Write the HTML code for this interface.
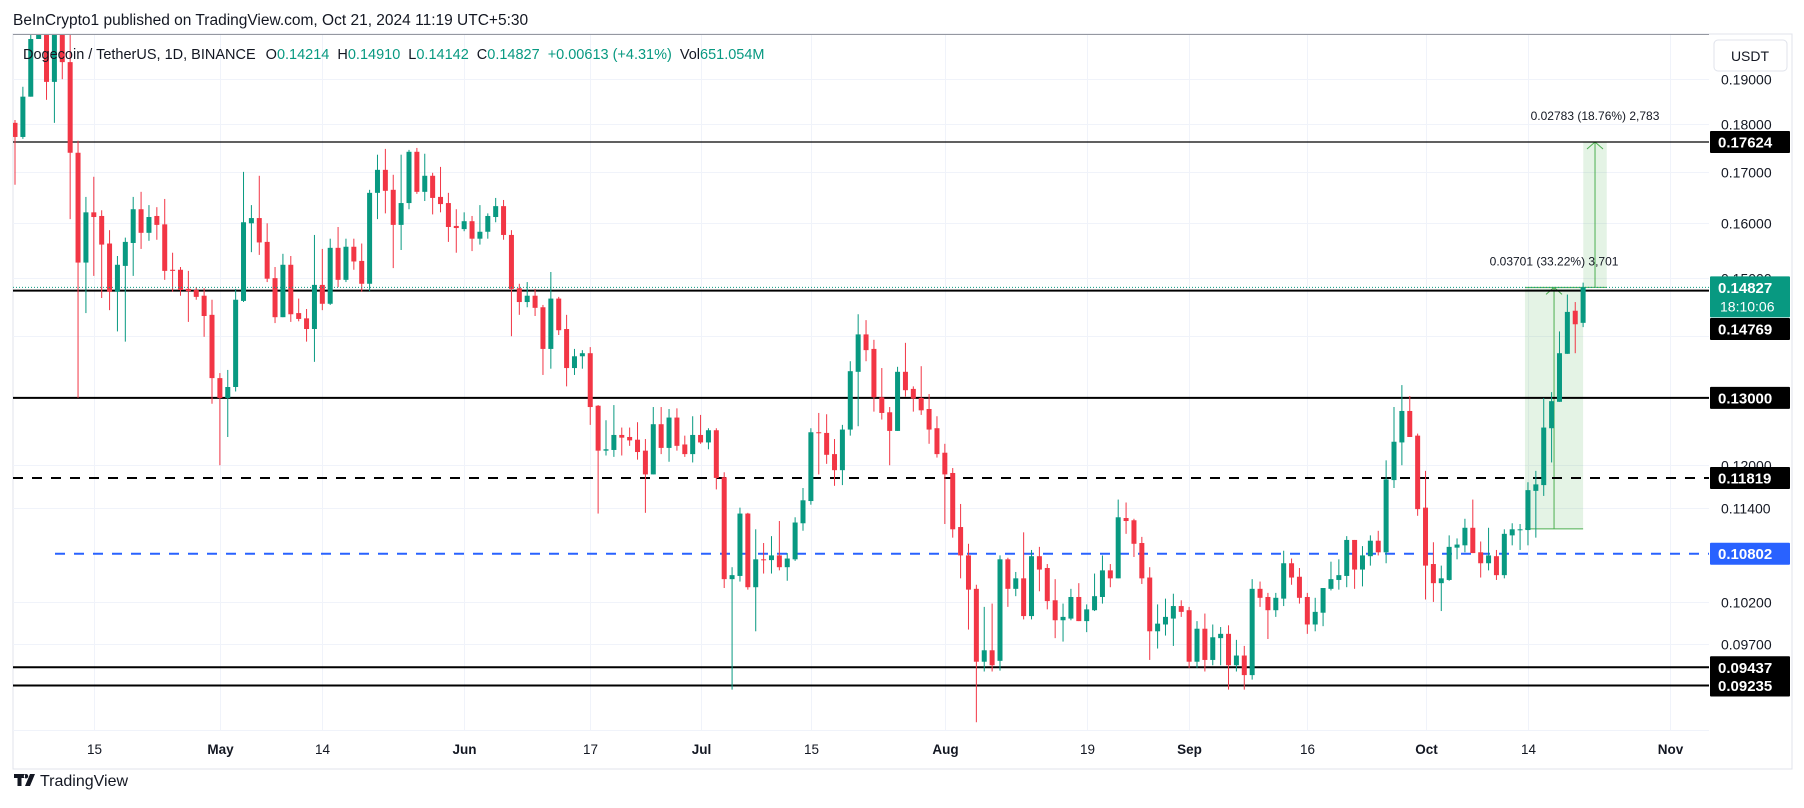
<!DOCTYPE html>
<html><head><meta charset="utf-8">
<style>
html,body{margin:0;padding:0;background:#fff;}
body{width:1804px;height:803px;overflow:hidden;font-family:"Liberation Sans",sans-serif;}
svg text{font-family:"Liberation Sans",sans-serif;}
</style></head>
<body>
<svg id="chart" width="1804" height="803" viewBox="0 0 1804 803" xmlns="http://www.w3.org/2000/svg">
  <text x="13" y="25" font-size="15.5" fill="#131722">BeInCrypto1 published on TradingView.com, Oct 21, 2024 11:19 UTC+5:30</text>
  <rect x="13" y="34" width="1779" height="735" fill="none" stroke="#e0e3eb" stroke-width="1"/>
  <line x1="13" y1="34.5" x2="1709" y2="34.5" stroke="#9598a1" stroke-width="1"/>
  <g id="grid"></g>
  <g id="plot" clip-path="url(#clipPlot)"></g>
  <defs><clipPath id="clipPlot"><rect x="13" y="35" width="1696" height="695"/></clipPath></defs>
  <g id="overlay"></g>
  <line x1="13" y1="730.5" x2="1709" y2="730.5" stroke="#f0f3fa"/>
  <g id="xaxis"></g>
  <g id="yaxis"></g>
  <rect x="1714" y="40" width="73" height="31" rx="4" fill="#fff" stroke="#e0e3eb"/>
  <text x="1750" y="61" font-size="14" fill="#131722" text-anchor="middle">USDT</text>
  <g id="legend">
    <text x="23" y="59" font-size="14.5" fill="#131722">Dogecoin / TetherUS, 1D, BINANCE <tspan dx="6">O</tspan><tspan fill="#089981">0.14214</tspan><tspan dx="8">H</tspan><tspan fill="#089981">0.14910</tspan><tspan dx="8">L</tspan><tspan fill="#089981">0.14142</tspan><tspan dx="8">C</tspan><tspan fill="#089981">0.14827</tspan><tspan dx="8" fill="#089981">+0.00613 (+4.31%)</tspan><tspan dx="8">Vol</tspan><tspan fill="#089981">651.054M</tspan></text>
  </g>
  <g>
    <path d="M14 774h11v4h-3.5v8h-4v-8H14z M26 774a2.2 2.2 0 1 0 0.01 0z M30 774h5l-5 12h-5z" fill="#131722"/>
    <text x="40" y="786" font-size="16" fill="#131722">TradingView</text>
  </g>
</svg>
<script>
const opens=[.1803,.1773,.1860,.1992,.2004,.1893,.2014,.1938,.1740,.1527,
.1621,.1614,.1562,.1475,.1521,.1563,.1627,.1582,.1614,.1598,
.1514,.1514,.1480,.1478,.1468,.1435,.1331,.1300,.1317,.1459,
.1600,.1610,.1565,.1499,.1431,.1523,.1438,.1429,.1411,.1487,
.1454,.1554,.1496,.1556,.1530,.1489,.1659,.1705,.1665,.1597,
.1639,.1742,.1661,.1693,.1651,.1639,.1595,.1589,.1604,.1571,
.1584,.1612,.1633,.1578,.1481,.1457,.1468,.1448,.1378,.1463,
.1411,.1347,.1366,.1371,.1288,.1221,.1222,.1244,.1241,.1237,
.1221,.1187,.1260,.1225,.1270,.1230,.1216,.1244,.1233,.1251,
.1183,.1048,.1052,.1133,.1038,.1073,.1072,.1078,.1063,.1073,
.1120,.1150,.1248,.1247,.1216,.1193,.1252,.1341,.1402,.1378,
.1301,.1278,.1250,.1341,.1314,.1300,.1283,.1254,.1218,.1189,
.1115,.1078,.1036,.0950,.0963,.0951,.1073,.1036,.1049,.1003,
.1077,.1062,.1022,.0998,.1000,.1026,.0997,.1010,.1026,.1059,
.1049,.1127,.1124,.1094,.1050,.0985,.0993,.1000,.1015,.1010,
.0950,.0988,.0952,.0977,.0982,.0946,.0957,.0935,.1036,.1026,
.1010,.1024,.1068,.1051,.1026,.0993,.1007,.1036,.1047,.1052,
.1098,.1060,.1077,.1097,.1082,.1179,.1233,.1280,.1243,.1141,
.1067,.1043,.1047,.1088,.1091,.1114,.1082,.1068,.1077,.1053,
.1104,.1111,.1111,.1164,.1172,.1254,.1294,.1370,.1442,.14214];
const closes=[.1773,.1860,.1992,.2004,.1893,.2004,.1938,.1740,.1527,.1621,
.1612,.1560,.1475,.1523,.1565,.1627,.1582,.1612,.1597,.1512,
.1512,.1478,.1476,.1466,.1433,.1331,.1300,.1317,.1461,.1602,
.1610,.1564,.1498,.1431,.1523,.1436,.1428,.1411,.1487,.1454,
.1554,.1496,.1556,.1529,.1489,.1659,.1705,.1663,.1597,.1639,
.1742,.1661,.1693,.1649,.1637,.1593,.1591,.1604,.1571,.1584,
.1614,.1633,.1578,.1480,.1457,.1468,.1447,.1378,.1463,.1409,
.1347,.1366,.1371,.1286,.1221,.1223,.1244,.1240,.1236,.1219,
.1187,.1260,.1225,.1270,.1228,.1216,.1244,.1233,.1251,.1182,
.1048,.1053,.1133,.1038,.1073,.1072,.1078,.1063,.1074,.1121,
.1151,.1248,.1247,.1215,.1193,.1252,.1342,.1402,.1376,.1301,
.1277,.1250,.1341,.1312,.1299,.1281,.1252,.1216,.1187,.1112,
.1078,.1035,.0950,.0963,.0946,.1073,.1036,.1049,.1003,.1077,
.1060,.1021,.0998,.1002,.1026,.0997,.1011,.1027,.1059,.1049,
.1128,.1123,.1093,.1049,.0985,.0994,.1002,.1015,.1008,.0950,
.0988,.0952,.0978,.0982,.0946,.0957,.0935,.1036,.1025,.1010,
.1025,.1068,.1050,.1025,.0993,.1008,.1037,.1048,.1053,.1098,
.1060,.1078,.1097,.1082,.1180,.1234,.1280,.1241,.1139,.1065,
.1043,.1049,.1089,.1092,.1114,.1081,.1068,.1078,.1053,.1106,
.1112,.1112,.1165,.1173,.1255,.1295,.1371,.1440,.1419,.14827];
const highs=[.1809,.1882,.2014,.2038,.2026,.2038,.2038,.2004,.1765,.1651,
.1691,.1625,.1587,.1539,.1573,.1651,.1661,.1635,.1631,.1647,
.1545,.1519,.1512,.1483,.1481,.1461,.1339,.1344,.1480,.1701,
.1635,.1693,.1600,.1519,.1543,.1539,.1463,.1445,.1578,.1552,
.1571,.1593,.1571,.1571,.1562,.1665,.1736,.1748,.1695,.1736,
.1746,.1750,.1738,.1699,.1711,.1659,.1627,.1621,.1614,.1635,
.1619,.1649,.1645,.1587,.1489,.1492,.1480,.1452,.1510,.1466,
.1435,.1378,.1376,.1381,.1289,.1266,.1289,.1255,.1255,.1263,
.1238,.1286,.1286,.1283,.1284,.1243,.1272,.1274,.1254,.1254,
.1190,.1063,.1141,.1134,.1112,.1094,.1103,.1123,.1081,.1128,
.1168,.1254,.1277,.1275,.1238,.1259,.1358,.1436,.1426,.1393,
.1347,.1286,.1349,.1388,.1318,.1350,.1306,.1272,.1231,.1196,
.1146,.1093,.1041,.1014,.1018,.1078,.1075,.1057,.1108,.1085,
.1089,.1067,.1048,.1018,.1036,.1043,.1017,.1055,.1078,.1067,
.1152,.1148,.1126,.1102,.1063,.1017,.1024,.1030,.1022,.1014,
.0997,.1006,.0993,.0990,.0992,.0975,.0968,.1048,.1045,.1031,
.1031,.1084,.1074,.1062,.1031,.1025,.1037,.1070,.1073,.1103,
.1098,.1090,.1104,.1110,.1207,.1286,.1320,.1303,.1246,.1192,
.1095,.1065,.1104,.1100,.1126,.1152,.1096,.1114,.1085,.1112,
.1120,.1119,.1176,.1192,.1300,.1309,.1407,.1470,.1457,.14910];
const lows=[.1675,.1769,.1860,.1992,.1853,.1803,.1899,.1608,.1300,.1438,
.1503,.1464,.1443,.1407,.1390,.1503,.1552,.1567,.1569,.1496,
.1475,.1468,.1423,.1461,.1398,.1291,.1200,.1241,.1310,.1457,
.1546,.1541,.1492,.1421,.1431,.1423,.1424,.1390,.1357,.1443,
.1452,.1483,.1492,.1514,.1475,.1476,.1608,.1619,.1517,.1550,
.1627,.1657,.1643,.1617,.1621,.1565,.1545,.1585,.1548,.1560,
.1571,.1602,.1569,.1399,.1435,.1448,.1433,.1336,.1346,.1401,
.1318,.1336,.1346,.1259,.1133,.1214,.1212,.1214,.1228,.1208,
.1134,.1187,.1216,.1205,.1221,.1212,.1204,.1231,.1223,.1166,
.1037,.0919,.1045,.1035,.0985,.1055,.1055,.1059,.1046,.1071,
.1110,.1145,.1187,.1202,.1171,.1172,.1243,.1257,.1358,.1279,
.1267,.1200,.1250,.1302,.1279,.1274,.1231,.1211,.1119,.1101,
.1049,.0987,.0884,.0939,.0939,.0940,.1014,.1027,.0999,.0999,
.1033,.1011,.0977,.0973,.0998,.0997,.0984,.1009,.1018,.1038,
.1049,.1106,.1076,.1042,.0952,.0965,.0980,.0968,.1002,.0943,
.0943,.0939,.0946,.0946,.0919,.0939,.0919,.0930,.1014,.0976,
.1002,.1015,.1041,.1018,.0982,.0985,.0991,.1034,.1035,.1038,
.1036,.1039,.1065,.1078,.1068,.1168,.1200,.1241,.1130,.1023,
.1020,.1009,.1046,.1073,.1082,.1081,.1050,.1059,.1047,.1049,
.1091,.1085,.1091,.1101,.1157,.1204,.1294,.1370,.1371,.14142];
const priceTicks=[0.19,0.18,0.17,0.16,0.15,0.14,0.12,0.114,0.102,0.097];
const priceTickLabels=["0.19000","0.18000","0.17000","0.16000","0.15000","","0.12000","0.11400","0.10200","0.09700"];
const timeTickDays=[10,26,39,57,73,87,101,118,136,149,164,179,192,210];
const timeTickLabels=["15","May","14","Jun","17","Jul","15","Aug","19","Sep","16","Oct","14","Nov"];
const timeTickBold=[false,true,false,true,false,true,false,true,false,true,false,true,false,true];
const levelPrices=[0.17624,0.14769,0.13,0.11819,0.10802,0.09437,0.09235];
const levelLabels=["0.17624","0.14769","0.13000","0.11819","0.10802","0.09437","0.09235"];
const lastPrice=0.14827;
const lastPriceLabel="0.14827";
const countdownLabel="18:10:06";
const pos1Start=192, pos1End=199, pos1Entry=0.11126, pos1Target=0.14827;
const pos1Label="0.03701 (33.22%) 3,701";
const pos2Start=199.4, pos2End=202, pos2Entry=0.14827, pos2Target=0.17624;
const pos2Label="0.02783 (18.76%) 2,783";

const NS="http://www.w3.org/2000/svg";
const X0=15, STEP=7.88, REFP=0.17624, REFY=142, K=841;
function xScale(i){return X0+i*STEP;}
function yScale(p){return REFY+K*Math.log(REFP/p);}
function mk(tag,attrs,parent){const e=document.createElementNS(NS,tag);for(const k in attrs)e.setAttribute(k,attrs[k]);parent.appendChild(e);return e;}

const grid=document.getElementById('grid'),plot=document.getElementById('plot'),ov=document.getElementById('overlay'),xa=document.getElementById('xaxis'),ya=document.getElementById('yaxis');

priceTicks.forEach((p,i)=>{
  const y=Math.round(yScale(p))+0.5;
  const l=mk('line',{x1:13,x2:1709,y1:y,y2:y,stroke:'#f0f3fa','stroke-width':1},grid);
  
  
  if(priceTickLabels[i]){
    const t=mk('text',{x:1721,y:y+5,'font-size':14,fill:'#131722'},ya);
    t.textContent=priceTickLabels[i];
    
    
  }
});
timeTickDays.forEach((d,i)=>{
  const x=Math.round(xScale(d))+0.5;
  const l=mk('line',{x1:x,x2:x,y1:35,y2:730,stroke:'#f0f3fa','stroke-width':1},grid);
  
  
  const t=mk('text',{x:x,y:754,'font-size':13.5,fill:'#131722','text-anchor':'middle','font-weight':timeTickBold[i]?'bold':'normal'},xa);
  t.textContent=timeTickLabels[i];
  
  
});

function posBox(s,e,entry,target,label,nm){
  const x1=xScale(s)-3,x2=xScale(e),yT=yScale(target),yE=yScale(entry);
  const r=mk('rect',{x:x1,y:yT,width:x2-x1,height:yE-yT,fill:'rgba(76,175,80,0.15)'},plot);
  
  
  mk('line',{x1:x1,x2:x2,y1:yT,y2:yT,stroke:'#4caf50','stroke-width':1},plot);
  mk('line',{x1:x1,x2:x2,y1:yE,y2:yE,stroke:'#4caf50','stroke-width':1},plot);
  const cx=(x1+x2)/2;
  mk('line',{x1:cx,x2:cx,y1:yE,y2:yT,stroke:'#4caf50','stroke-width':1},plot);
  mk('path',{d:`M${cx-8} ${yT+7}L${cx} ${yT}L${cx+8} ${yT+7}`,fill:'none',stroke:'#4caf50','stroke-width':1},plot);
  const t=mk('text',{x:cx,y:yT-22,'font-size':12,fill:'#131722','text-anchor':'middle'},ov);
  t.textContent=label;
  
  
}
posBox(pos1Start,pos1End,pos1Entry,pos1Target,pos1Label,'long-position-1');
posBox(pos2Start,pos2End,pos2Entry,pos2Target,pos2Label,'long-position-2');

const levelStyles=[
 {c:'#000',w:1.3,d:'',x:13},{c:'#000',w:2,d:'',x:13},{c:'#000',w:2,d:'',x:13},
 {c:'#000',w:2,d:'10 9',x:13},{c:'#2962ff',w:2,d:'10 9',x:55},{c:'#000',w:2,d:'',x:13},{c:'#000',w:2,d:'',x:13}];
levelPrices.forEach((p,i)=>{
  const y=yScale(p),s=levelStyles[i];
  const l=mk('line',{x1:s.x,x2:1709,y1:y,y2:y,stroke:s.c,'stroke-width':s.w},plot);
  if(s.d)l.setAttribute('stroke-dasharray',s.d);
  
  
});

for(let i=0;i<closes.length;i++){
  const o=opens[i],c=closes[i],h=highs[i],lo=lows[i];
  const up=c>=o,col=up?'#089981':'#f23645';
  const x=xScale(i);
  const g=mk('g',{},plot);
  
  
  mk('line',{x1:x,x2:x,y1:yScale(h),y2:yScale(lo),stroke:col,'stroke-width':1},g);
  const yt=yScale(Math.max(o,c)),yb=yScale(Math.min(o,c));
  mk('rect',{x:x-2.5,y:yt,width:5,height:Math.max(1,yb-yt),fill:col},g);
}

const yl=yScale(lastPrice);
const dl=mk('line',{x1:13,x2:1709,y1:yl,y2:yl,stroke:'#089981','stroke-width':1,'stroke-dasharray':'1 2'},plot);



const labelYs={"0.14769":329};
const boxCols=['#000','#000','#000','#000','#2962ff','#000','#000'];
levelPrices.forEach((p,i)=>{
  const y=labelYs[levelLabels[i]]!==undefined?labelYs[levelLabels[i]]:yScale(p);
  const b=mk('rect',{x:1710,y:y-11,width:80,height:22,fill:boxCols[i],rx:1},ya);
  
  
  const t=mk('text',{x:1718,y:y+5.5,'font-size':15,fill:'#fff','font-weight':'bold'},ya);
  t.textContent=levelLabels[i];
  
  
});
const lb=mk('rect',{x:1710,y:yl-11,width:80,height:41,fill:'#089981',rx:1},ya);


const lt=mk('text',{x:1718,y:yl+5.5,'font-size':15,fill:'#fff','font-weight':'bold'},ya);
lt.textContent=lastPriceLabel;


const ct=mk('text',{x:1720,y:yl+24,'font-size':14,fill:'#fff'},ya);
ct.textContent=countdownLabel;


</script>
</body></html>
